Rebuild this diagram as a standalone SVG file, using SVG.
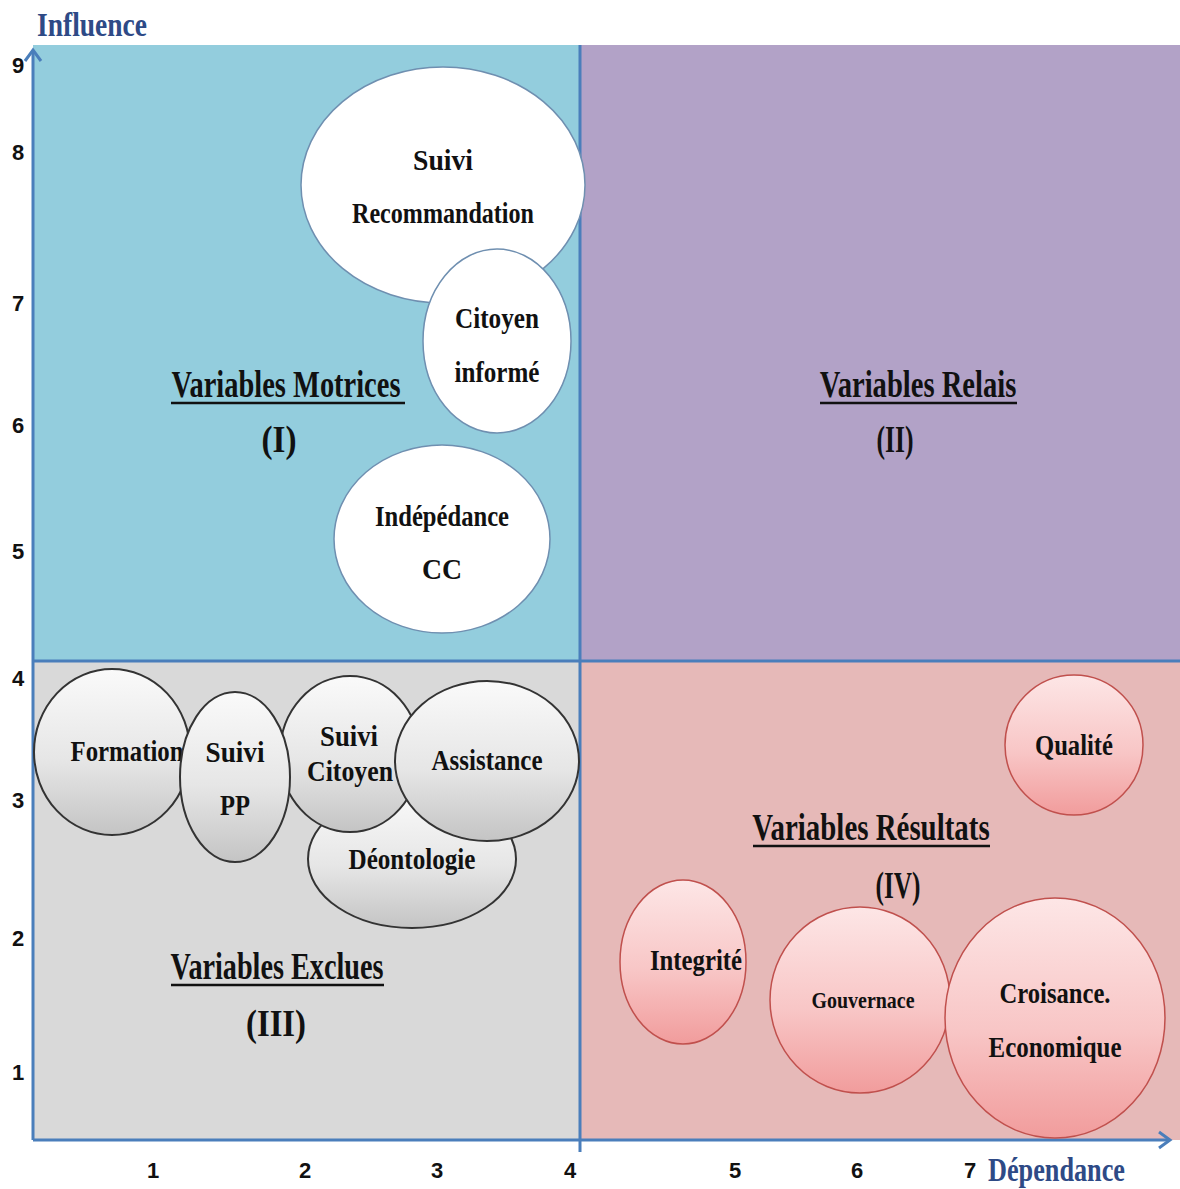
<svg xmlns="http://www.w3.org/2000/svg" width="1180" height="1189" viewBox="0 0 1180 1189">
<defs>
<linearGradient id="gGray" x1="0" y1="0" x2="0" y2="1">
<stop offset="0" stop-color="#fafafa"/><stop offset="0.55" stop-color="#e6e6e6"/><stop offset="1" stop-color="#c4c4c4"/>
</linearGradient>
<linearGradient id="gPink" x1="0" y1="0" x2="0" y2="1">
<stop offset="0" stop-color="#fde6e6"/><stop offset="0.55" stop-color="#f8c6c6"/><stop offset="1" stop-color="#f19c9c"/>
</linearGradient>
<marker id="arr" markerWidth="16" markerHeight="20" refX="13" refY="10" orient="auto" markerUnits="userSpaceOnUse">
<path d="M2,2 L13,10 L2,18" fill="none" stroke="#4a7ebb" stroke-width="3"/>
</marker>
<style>
.t{font-family:"Liberation Serif","Times New Roman",serif;font-weight:bold;fill:#111;text-anchor:middle}
.b{font-size:30px}
.q{font-size:38px}
.n{font-family:"Liberation Sans",Arial,sans-serif;font-weight:bold;font-size:22px;fill:#111;text-anchor:middle}
.ax{font-family:"Liberation Serif","Times New Roman",serif;font-weight:bold;font-size:34px;fill:#2e4a86}
.white{fill:#ffffff;stroke:#6f8fb0;stroke-width:1.5}
.gray{fill:url(#gGray);stroke:#333;stroke-width:2}
.pink{fill:url(#gPink);stroke:#c0504d;stroke-width:1.5}
.ln{stroke:#4a7ebb;stroke-width:3;fill:none}
.ul{stroke:#111;stroke-width:2.5}
</style>
</defs>
<rect width="1180" height="1189" fill="#ffffff"/>
<g id="quadrants">
<rect x="33" y="45" width="547" height="616" fill="#93cddd"/>
<rect x="580" y="45" width="600" height="616" fill="#b2a2c7"/>
<rect x="33" y="661" width="547" height="479" fill="#d9d9d9"/>
<rect x="580" y="661" width="600" height="479" fill="#e6b9b8"/>
</g>
<g id="connectors">
<line class="ln" x1="33" y1="661" x2="1180" y2="661"/>
<line class="ln" x1="580" y1="45" x2="580" y2="1152"/>
<line class="ln" x1="33" y1="1140" x2="33" y2="50" marker-end="url(#arr)"/>
<line class="ln" x1="33" y1="1140" x2="1170" y2="1140" marker-end="url(#arr)"/>
</g>
<g id="axis-labels">
<text class="ax" x="37" y="36" textLength="110" lengthAdjust="spacingAndGlyphs">Influence</text>
<text class="ax" x="988" y="1181" textLength="137" lengthAdjust="spacingAndGlyphs">Dépendance</text>
<text class="n" x="18" y="73">9</text>
<text class="n" x="18" y="160">8</text>
<text class="n" x="18" y="311">7</text>
<text class="n" x="18" y="433">6</text>
<text class="n" x="18" y="559">5</text>
<text class="n" x="18" y="686">4</text>
<text class="n" x="18" y="808">3</text>
<text class="n" x="18" y="946">2</text>
<text class="n" x="18" y="1080">1</text>
<text class="n" x="153" y="1178">1</text>
<text class="n" x="305" y="1178">2</text>
<text class="n" x="437" y="1178">3</text>
<text class="n" x="570" y="1178">4</text>
<text class="n" x="735" y="1178">5</text>
<text class="n" x="857" y="1178">6</text>
<text class="n" x="970" y="1178">7</text>
</g>
<g id="label-I">
<text class="t q" transform="translate(286,397) scale(0.7,1)" x="0" y="0" textLength="327" lengthAdjust="spacingAndGlyphs">Variables Motrices</text>
<line class="ul" x1="171" y1="403" x2="405" y2="403"/>
<text class="t q" x="279" y="452" textLength="35" lengthAdjust="spacingAndGlyphs">(I)</text>
</g>
<g id="label-II">
<text class="t q" transform="translate(918,397) scale(0.7,1)" x="0" y="0" textLength="281" lengthAdjust="spacingAndGlyphs">Variables Relais</text>
<line class="ul" x1="820" y1="403" x2="1017" y2="403"/>
<text class="t q" x="895" y="452" textLength="37" lengthAdjust="spacingAndGlyphs">(II)</text>
</g>
<g id="label-III">
<text class="t q" transform="translate(277,979) scale(0.7,1)" x="0" y="0" textLength="304" lengthAdjust="spacingAndGlyphs">Variables Exclues</text>
<line class="ul" x1="171" y1="985" x2="384" y2="985"/>
<text class="t q" x="276" y="1036" textLength="60" lengthAdjust="spacingAndGlyphs">(III)</text>
</g>
<g id="label-IV">
<text class="t q" transform="translate(871,840) scale(0.7,1)" x="0" y="0" textLength="339" lengthAdjust="spacingAndGlyphs">Variables Résultats</text>
<line class="ul" x1="753" y1="846" x2="990" y2="846"/>
<text class="t q" x="898" y="898" textLength="45" lengthAdjust="spacingAndGlyphs">(IV)</text>
</g>
<g id="node-suivi-recommandation">
<ellipse class="white" cx="443" cy="185" rx="142" ry="118"/>
<text class="t b" x="443" y="170" textLength="60" lengthAdjust="spacingAndGlyphs">Suivi</text>
<text class="t b" x="443" y="223" textLength="182" lengthAdjust="spacingAndGlyphs">Recommandation</text>
</g>
<g id="node-citoyen-informe">
<ellipse class="white" cx="497" cy="341" rx="74" ry="92"/>
<text class="t b" x="497" y="328" textLength="84" lengthAdjust="spacingAndGlyphs">Citoyen</text>
<text class="t b" x="497" y="382" textLength="85" lengthAdjust="spacingAndGlyphs">informé</text>
</g>
<g id="node-independance-cc">
<ellipse class="white" cx="442" cy="539" rx="108" ry="94"/>
<text class="t b" x="442" y="526" textLength="134" lengthAdjust="spacingAndGlyphs">Indépédance</text>
<text class="t b" x="442" y="579" textLength="40" lengthAdjust="spacingAndGlyphs">CC</text>
</g>
<g id="node-deontologie">
<ellipse class="gray" cx="412" cy="859" rx="104" ry="69"/>
<text class="t b" x="412" y="869" textLength="127" lengthAdjust="spacingAndGlyphs">Déontologie</text>
</g>
<g id="node-formation">
<ellipse class="gray" cx="112" cy="752" rx="78" ry="83"/>
<text class="t b" x="127" y="761" textLength="113" lengthAdjust="spacingAndGlyphs">Formation</text>
</g>
<g id="node-suivi-citoyen">
<ellipse class="gray" cx="350" cy="754" rx="70" ry="78"/>
<text class="t b" x="349" y="746" textLength="58" lengthAdjust="spacingAndGlyphs">Suivi</text>
<text class="t b" x="350" y="781" textLength="86" lengthAdjust="spacingAndGlyphs">Citoyen</text>
</g>
<g id="node-suivi-pp">
<ellipse class="gray" cx="235" cy="777" rx="55" ry="85"/>
<text class="t b" x="235" y="762" textLength="59" lengthAdjust="spacingAndGlyphs">Suivi</text>
<text class="t b" x="235" y="815" textLength="30" lengthAdjust="spacingAndGlyphs">PP</text>
</g>
<g id="node-assistance">
<ellipse class="gray" cx="487" cy="761" rx="92" ry="80"/>
<text class="t b" x="487" y="770" textLength="111" lengthAdjust="spacingAndGlyphs">Assistance</text>
</g>
<g id="node-qualite">
<ellipse class="pink" cx="1074" cy="745" rx="69" ry="70"/>
<text class="t b" x="1074" y="755" textLength="78" lengthAdjust="spacingAndGlyphs">Qualité</text>
</g>
<g id="node-integrite">
<ellipse class="pink" cx="683" cy="962" rx="63" ry="82"/>
<text class="t b" x="696" y="970" textLength="92" lengthAdjust="spacingAndGlyphs">Integrité</text>
</g>
<g id="node-gouvernace">
<ellipse class="pink" cx="860" cy="1000" rx="90" ry="93"/>
<text class="t" x="863" y="1008" font-size="24" textLength="103" lengthAdjust="spacingAndGlyphs">Gouvernace</text>
</g>
<g id="node-croisance-economique">
<ellipse class="pink" cx="1055" cy="1018" rx="110" ry="120"/>
<text class="t b" x="1055" y="1003" textLength="111" lengthAdjust="spacingAndGlyphs">Croisance.</text>
<text class="t b" x="1055" y="1057" textLength="133" lengthAdjust="spacingAndGlyphs">Economique</text>
</g>
</svg>
